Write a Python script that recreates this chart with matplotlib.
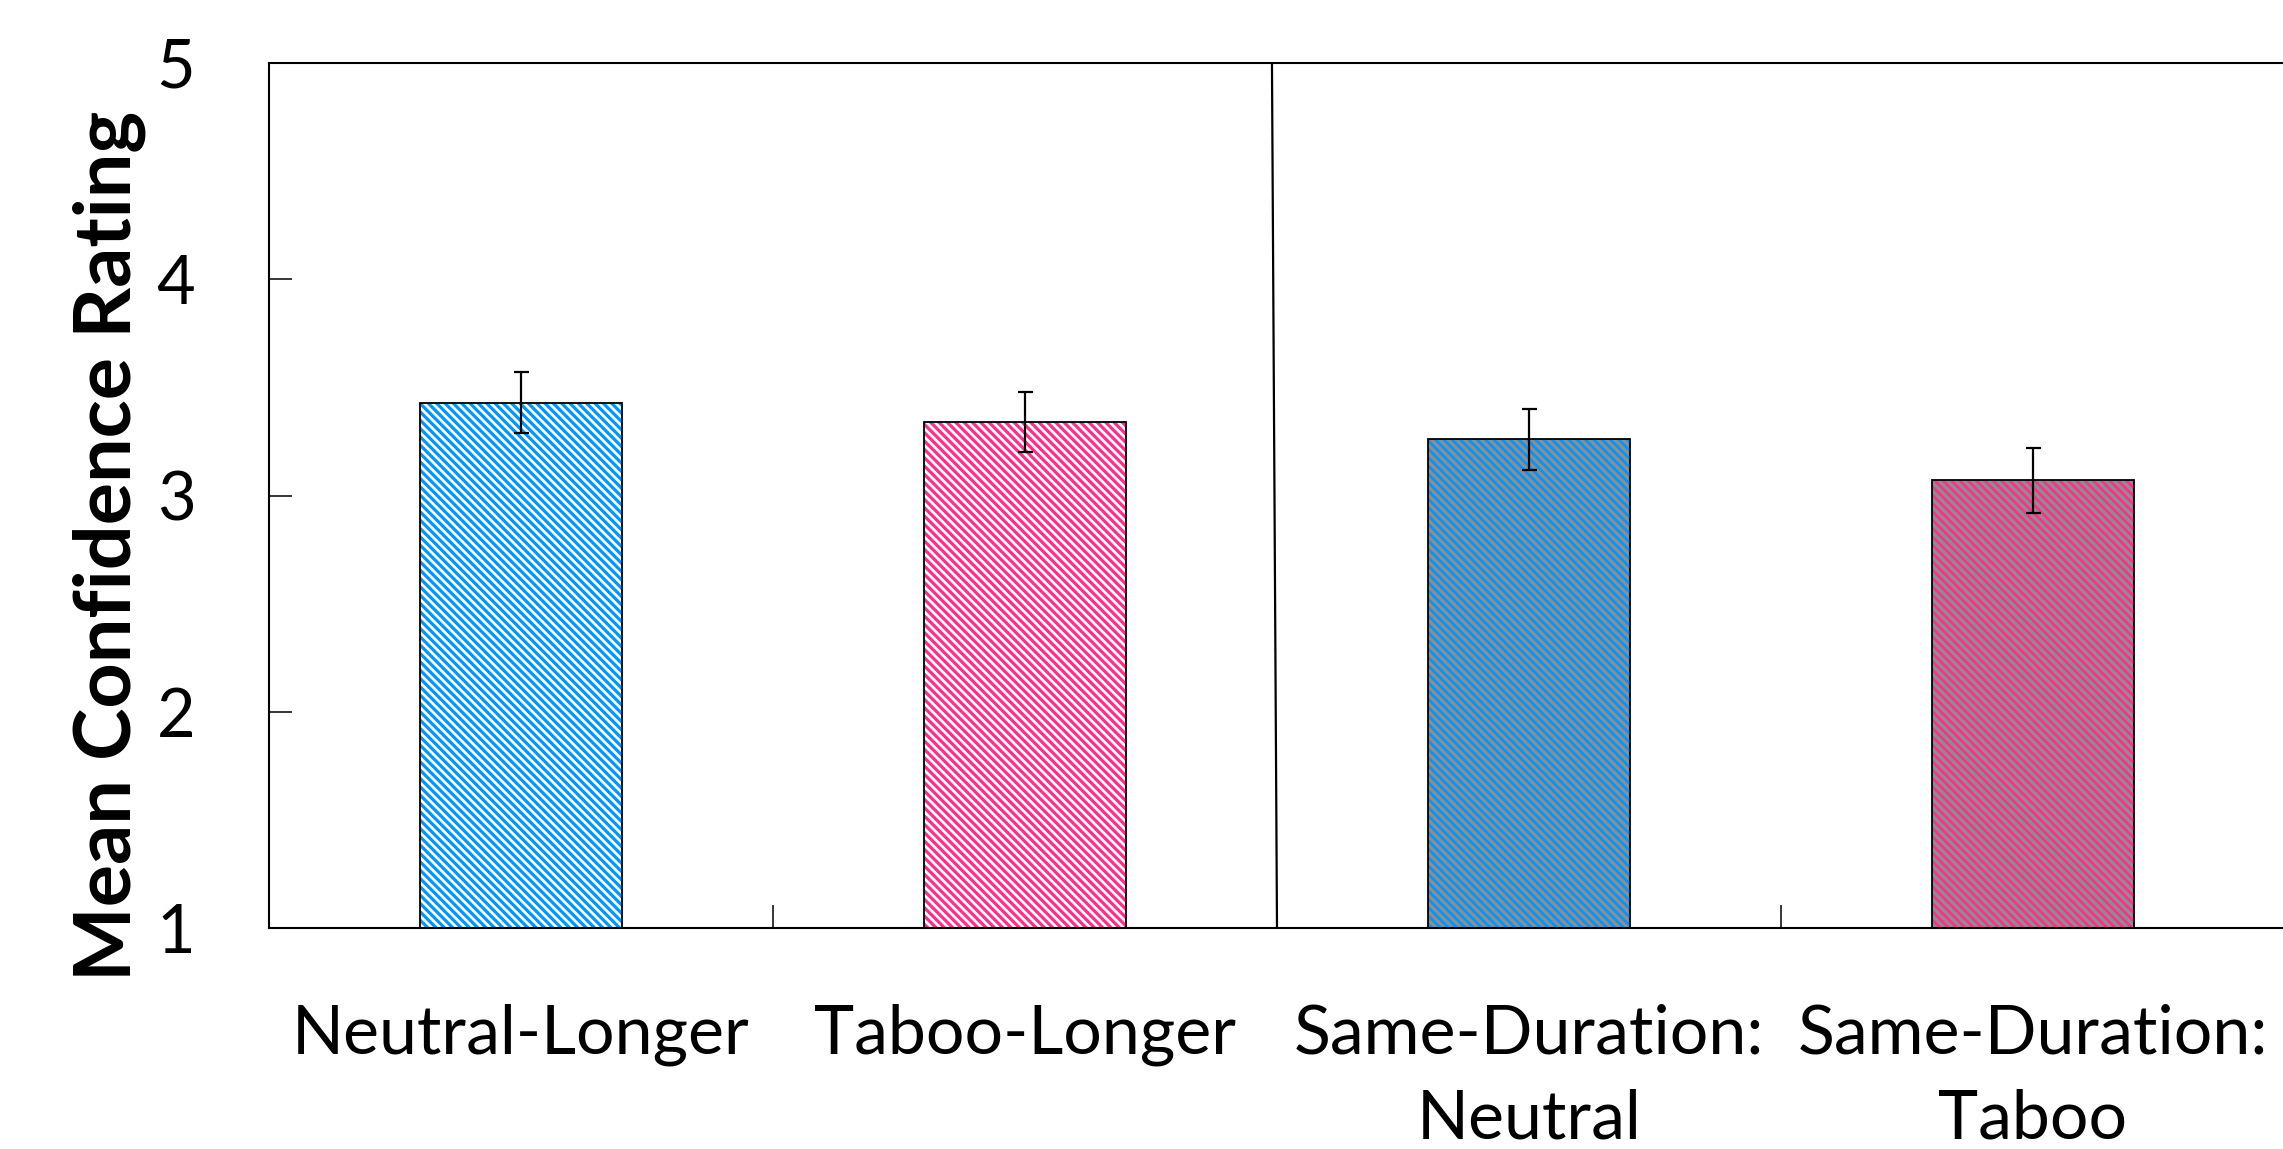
import numpy as np
import matplotlib
matplotlib.use('Agg')
import matplotlib.pyplot as plt

plt.rcParams['font.family'] = ['Lato', 'DejaVu Sans']
plt.rcParams['hatch.linewidth'] = 2.3

# medias e erro padrao por condicao
condicoes = ['Neutral-Longer', 'Taboo-Longer', 'Same-Duration:\nNeutral', 'Same-Duration:\nTaboo']
medias = [3.43, 3.34, 3.26, 3.07]
erros = [0.14, 0.14, 0.14, 0.15]

azul = '#0096FF'
rosa = '#FF2E8C'
cinza = '#8E8E8E'
cor_fundo = ['white', 'white', azul, rosa]
cor_hachura = [azul, rosa, cinza, cinza]

fig = plt.figure(figsize=(22.83, 11.49), dpi=100)
ax = fig.add_axes([269/2283, 1 - 928/1149, (2285 - 269)/2283, (928 - 63)/1149])

x = np.arange(len(condicoes)) + 0.5
base = 1
alturas = [m - base for m in medias]

# hachura primeiro (cor da hachura vem do edgecolor), contorno preto por cima
for xi, h, fc, hc in zip(x, alturas, cor_fundo, cor_hachura):
    ax.bar(xi, h, width=0.4, bottom=base, color=fc, edgecolor=hc, hatch='\\\\\\\\', linewidth=0)
ax.bar(x, alturas, width=0.4, bottom=base, fill=False, edgecolor='black', linewidth=1.3)

ax.errorbar(x, medias, yerr=erros, fmt='none', ecolor='black', elinewidth=1.6,
            capsize=5.4, capthick=1.6)

# linha separando os dois blocos
ax.plot([1.99, 2.0], [5, 1], color='black', linewidth=1.6)

ax.set_xlim(0, 4)
ax.set_ylim(1, 5)
ax.set_yticks([1, 2, 3, 4, 5])
ax.set_xticks(x)
ax.set_xticklabels(condicoes, fontsize=49, linespacing=1.47)
ax.set_xticks([1, 3], minor=True)
ax.tick_params(axis='x', which='major', length=0, pad=54)
ax.tick_params(axis='x', which='minor', direction='in', length=16.6, width=1.1)
ax.tick_params(axis='y', direction='in', length=16.6, width=1.1, labelsize=48, pad=53)

for lado in ['left', 'bottom', 'top']:
    ax.spines[lado].set_linewidth(1.5)
ax.spines['right'].set_visible(False)

ax.set_ylabel('Mean Confidence Rating', fontsize=57, fontweight='bold')
ax.yaxis.set_label_coords(-0.079, 0.442)
ax.yaxis.label.set(va='center', ha='center')

fig.savefig('out.png', dpi=100)
